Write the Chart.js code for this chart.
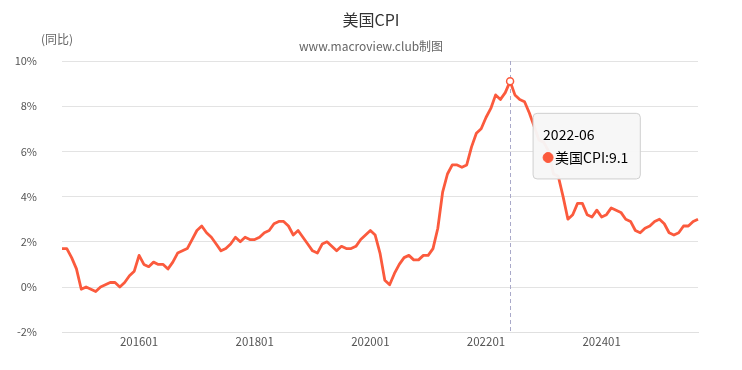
<!DOCTYPE html>
<html>
<head>
<meta charset="utf-8">
<script src="https://cdn.jsdelivr.net/npm/chart.js@4.4.1/dist/chart.umd.min.js"></script>
<style>
  html, body { margin: 0; padding: 0; background: #fff; }
  #wrap { width: 742px; height: 370px; position: relative; }
</style>
</head>
<body>
<div id="wrap"><canvas id="chartCpi"></canvas></div>
<script>
// 美国CPI 同比, 2014-09 .. 2025-09
const startYear = 2014;
const startMonth = 9;
const cpi = [
  1.7, 1.7, 1.3, 0.8,                                           // 2014 (9-12)
  -0.1, 0.0, -0.1, -0.2, 0.0, 0.1, 0.2, 0.2, 0.0, 0.2, 0.5, 0.7, // 2015
  1.4, 1.0, 0.9, 1.1, 1.0, 1.0, 0.8, 1.1, 1.5, 1.6, 1.7, 2.1,   // 2016
  2.5, 2.7, 2.4, 2.2, 1.9, 1.6, 1.7, 1.9, 2.2, 2.0, 2.2, 2.1,   // 2017
  2.1, 2.2, 2.4, 2.5, 2.8, 2.9, 2.9, 2.7, 2.3, 2.5, 2.2, 1.9,   // 2018
  1.6, 1.5, 1.9, 2.0, 1.8, 1.6, 1.8, 1.7, 1.7, 1.8, 2.1, 2.3,   // 2019
  2.5, 2.3, 1.5, 0.3, 0.1, 0.6, 1.0, 1.3, 1.4, 1.2, 1.2, 1.4,   // 2020
  1.4, 1.7, 2.6, 4.2, 5.0, 5.4, 5.4, 5.3, 5.4, 6.2, 6.8, 7.0,   // 2021
  7.5, 7.9, 8.5, 8.3, 8.6, 9.1, 8.5, 8.3, 8.2, 7.7, 7.1, 6.5,   // 2022
  6.4, 6.0, 5.0, 4.9, 4.0, 3.0, 3.2, 3.7, 3.7, 3.2, 3.1, 3.4,   // 2023
  3.1, 3.2, 3.5, 3.4, 3.3, 3.0, 2.9, 2.5, 2.4, 2.6, 2.7, 2.9,   // 2024
  3.0, 2.8, 2.4, 2.3, 2.4, 2.7, 2.7, 2.9, 3.0                   // 2025 (1-9)
];
const xTickLabels = ['201601', '201801', '202001', '202201', '202401'];
const yTicks = [-2, 0, 2, 4, 6, 8, 10];
const highlightMonth = '2022-06';

// 月份类目
const months = [];
for (let i = 0; i < cpi.length; i++) {
  const m = startMonth - 1 + i;
  const y = startYear + Math.floor(m / 12);
  const mm = (m % 12) + 1;
  months.push(y + '-' + (mm < 10 ? '0' + mm : '' + mm));
}

const lineColor = '#fb5a3d';
const cjk = '"Microsoft YaHei", "Noto Sans CJK SC", sans-serif';

// 提示框位置: 点的右下方
Chart.Tooltip.positioners.rightBelow = function (items) {
  if (!items.length) return false;
  const el = items[0].element;
  return { x: el.x + 27, y: el.y + 32, xAlign: 'left', yAlign: 'top' };
};

// 标题、虚线准线、单位
const extras = {
  id: 'extras',
  beforeDatasetsDraw(chart) {
    const active = chart.getActiveElements();
    if (!active.length) return;
    const ctx = chart.ctx;
    const x = active[0].element.x;
    ctx.save();
    ctx.strokeStyle = '#a9a9c9';
    ctx.lineWidth = 1;
    ctx.setLineDash([4, 3]);
    ctx.beginPath();
    ctx.moveTo(Math.round(x) + 0.5, chart.chartArea.top);
    ctx.lineTo(Math.round(x) + 0.5, chart.chartArea.bottom);
    ctx.stroke();
    ctx.restore();
  },
  afterDraw(chart) {
    const ctx = chart.ctx;
    const cx = chart.width / 2;
    ctx.save();
    ctx.textAlign = 'center';
    ctx.textBaseline = 'middle';
    ctx.fillStyle = '#333';
    ctx.font = '16px ' + cjk;
    ctx.fillText('美国CPI', cx, 20);
    ctx.fillStyle = '#666';
    ctx.font = '12px ' + cjk;
    ctx.fillText('www.macroview.club制图', cx, 46);
    ctx.fillText('(同比)', chart.chartArea.left - 5, chart.chartArea.top - 22);
    ctx.restore();
  }
};

const chart = new Chart(document.getElementById('chartCpi'), {
  type: 'line',
  data: {
    labels: months,
    datasets: [{
      label: '美国CPI',
      data: cpi,
      borderColor: lineColor,
      backgroundColor: lineColor,
      borderWidth: 2.8,
      borderJoinStyle: 'round',
      pointRadius: 0,
      pointHoverRadius: 3.5,
      pointHoverBackgroundColor: '#fff',
      pointHoverBorderColor: lineColor,
      pointHoverBorderWidth: 1.5,
      tension: 0
    }]
  },
  options: {
    responsive: true,
    maintainAspectRatio: false,
    animation: false,
    events: [],
    layout: { padding: { left: 14, right: 44, top: 61, bottom: 18 } },
    plugins: {
      legend: { display: false },
      title: { display: false },
      tooltip: {
        position: 'rightBelow',
        backgroundColor: 'rgba(247,247,247,0.96)',
        borderColor: '#cfcfcf',
        borderWidth: 1,
        cornerRadius: 4,
        caretSize: 0,
        caretPadding: 0,
        padding: { left: 10, right: 12, top: 13, bottom: 13 },
        titleColor: '#000',
        bodyColor: '#000',
        titleFont: { family: cjk, size: 14, weight: 'normal' },
        bodyFont: { family: cjk, size: 14 },
        titleMarginBottom: 6,
        displayColors: true,
        usePointStyle: true,
        boxWidth: 10,
        boxHeight: 10,
        callbacks: {
          label: (item) => item.dataset.label + ':' + item.parsed.y,
          labelColor: () => ({ borderColor: lineColor, backgroundColor: lineColor }),
          labelPointStyle: () => ({ pointStyle: 'circle', rotation: 0 })
        }
      }
    },
    scales: {
      x: {
        grid: { display: false, drawTicks: false },
        border: { display: true, color: '#e0e0e0' },
        ticks: {
          autoSkip: false,
          maxRotation: 0,
          padding: 3,
          color: '#555',
          font: { family: cjk, size: 11.5 },
          callback: function (v, i) {
            const lab = months[i].replace('-', '');
            return xTickLabels.includes(lab) ? lab : '';
          }
        }
      },
      y: {
        min: yTicks[0],
        max: yTicks[yTicks.length - 1],
        afterBuildTicks: (axis) => { axis.ticks = yTicks.map(v => ({ value: v })); },
        afterFit: (axis) => { axis.width = 48; },
        grid: { color: '#e3e3e3', drawTicks: false },
        border: { display: false },
        ticks: {
          padding: 25,
          color: '#555',
          font: { family: cjk, size: 11 },
          callback: (v) => v + '%'
        }
      }
    }
  },
  plugins: [extras]
});

const idx = months.indexOf(highlightMonth);
const act = [{ datasetIndex: 0, index: idx }];
chart.setActiveElements(act);
const pt = chart.getDatasetMeta(0).data[idx];
chart.tooltip.setActiveElements(act, { x: pt.x, y: pt.y });
chart.update();
</script>
</body>
</html>
